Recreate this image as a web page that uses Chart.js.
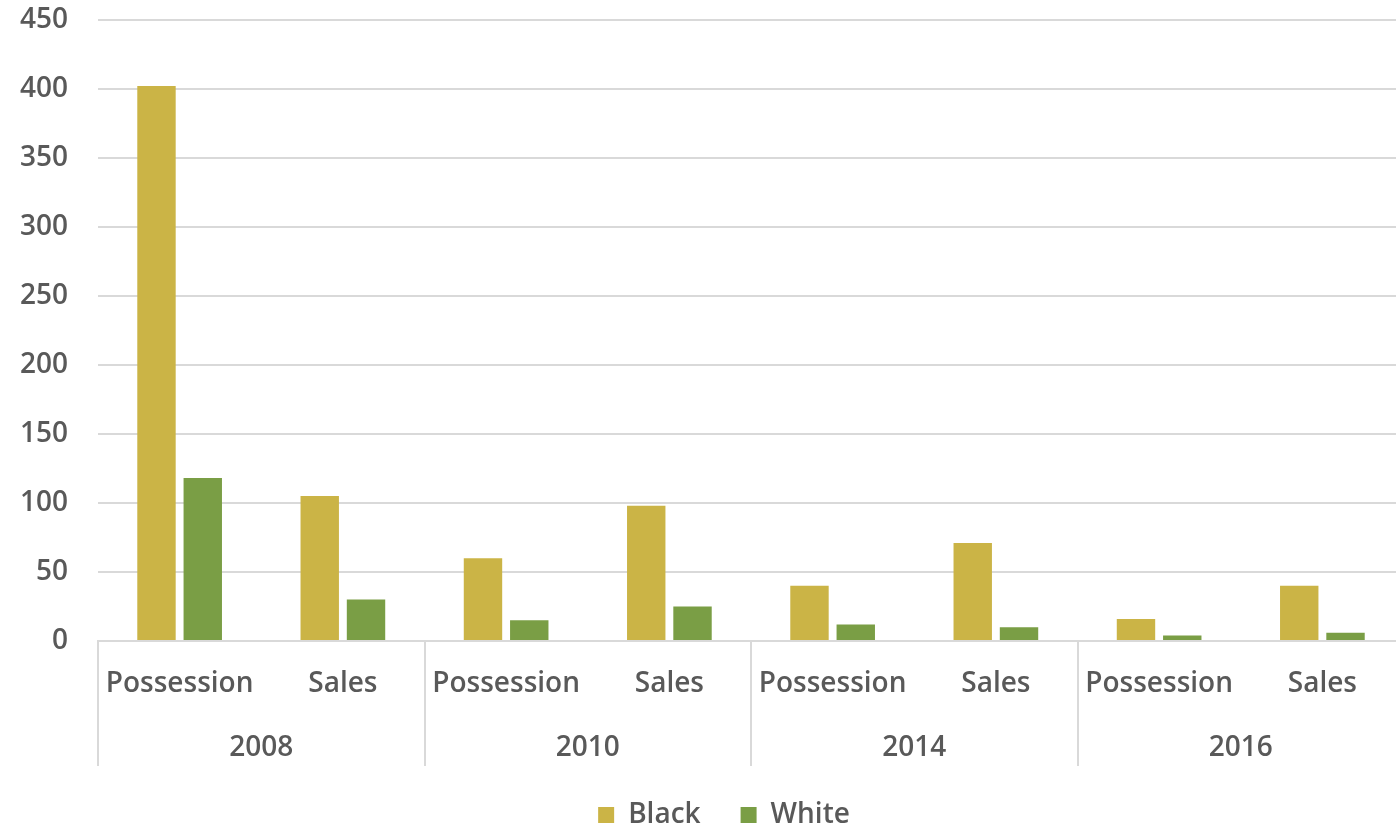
<html lang="en">
<head>
    <meta charset="UTF-8">
    <title>Arrests by race</title>
    <script src="https://cdn.jsdelivr.net/npm/chart.js"></script>
    <style>
        body {
            margin: 0;
            overflow: hidden;
            background: #ffffff;
        }
        .chart-box {
            position: relative;
            width: 1404px;
            height: 839px;
        }
    </style>
</head>
<body>
    <div class="chart-box">
        <canvas id="arrestChart"></canvas>
    </div>
    <script>
        // data
        const offenses = ["Possession", "Sales", "Possession", "Sales", "Possession", "Sales", "Possession", "Sales"];
        const years = ["2008", "2010", "2014", "2016"];
        const blackValues = [402, 105, 60, 98, 40, 71, 16, 40];
        const whiteValues = [118, 30, 15, 25, 12, 10, 4, 6];
        const yTicks = [0, 50, 100, 150, 200, 250, 300, 350, 400, 450];

        const textColor = "#595959";
        const lineColor = "#d9d9d9";
        const labelFont = { family: "'Open Sans', sans-serif", size: 28, weight: "600" };

        // the legend in the original sits a bit right of the canvas centre
        const legendShift = {
            id: "legendShift",
            afterLayout(chart) {
                chart.legend.left += 22;
                chart.legend.right += 22;
            }
        };

        new Chart(document.getElementById("arrestChart"), {
            type: "bar",
            data: {
                labels: offenses,
                datasets: [{
                    label: "Black",
                    data: blackValues,
                    backgroundColor: "#cbb446",
                    categoryPercentage: 0.567,
                    barPercentage: 0.83
                }, {
                    label: "White",
                    data: whiteValues,
                    backgroundColor: "#7a9e45",
                    categoryPercentage: 0.567,
                    barPercentage: 0.83
                }]
            },
            plugins: [legendShift],
            options: {
                responsive: true,
                maintainAspectRatio: false,
                animation: false,
                layout: { padding: 0 },
                plugins: {
                    tooltip: { enabled: false },
                    legend: {
                        position: "bottom",
                        labels: {
                            boxWidth: 16,
                            boxHeight: 16,
                            padding: 40,
                            color: textColor,
                            font: labelFont
                        }
                    }
                },
                scales: {
                    y: {
                        min: 0,
                        max: 450,
                        afterBuildTicks: s => { s.ticks = yTicks.map(v => ({ value: v })); },
                        afterFit: s => { s.width = 98; },
                        grid: { color: lineColor, lineWidth: 2, tickLength: 27, tickColor: "rgba(0,0,0,0)" },
                        border: { display: false },
                        ticks: { padding: 3, color: textColor, font: labelFont }
                    },
                    x: {
                        afterFit: s => { s.height = 62; },
                        grid: {
                            offset: true,
                            drawOnChartArea: false,
                            tickLength: 125,
                            lineWidth: 2,
                            color: ctx => ctx.index % 2 === 0 ? lineColor : "rgba(0,0,0,0)"
                        },
                        border: { color: lineColor, width: 2 },
                        ticks: {
                            padding: -99,
                            maxRotation: 0,
                            autoSkip: false,
                            color: textColor,
                            font: labelFont
                        }
                    },
                    x2: {
                        type: "category",
                        labels: years,
                        position: "bottom",
                        offset: true,
                        afterFit: s => { s.height = 58; },
                        grid: { display: false, drawTicks: false },
                        border: { display: false },
                        ticks: {
                            padding: 28,
                            maxRotation: 0,
                            color: textColor,
                            font: labelFont
                        }
                    }
                }
            }
        });
    </script>
</body>
</html>
